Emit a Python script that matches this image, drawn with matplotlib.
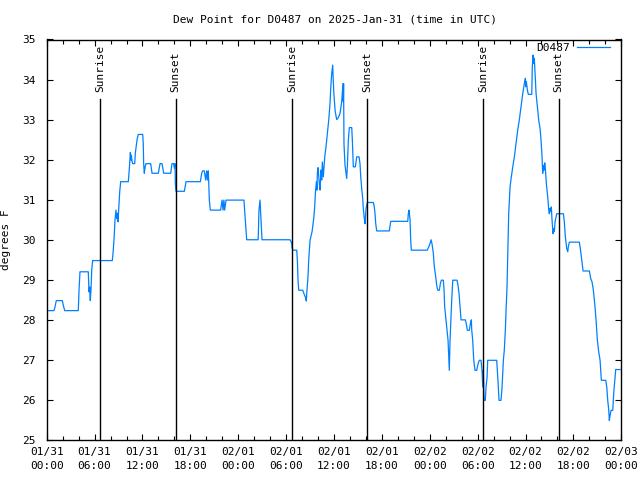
import pandas as pd
import matplotlib
matplotlib.use("Agg")
import matplotlib.pyplot as plt
import matplotlib.dates as mdates

plt.rcParams['font.family'] = ['DejaVu Sans Mono']

start = pd.Timestamp("2025-01-31 00:00")

# hours since 01/31 00:00 UTC, dew point in F
hours = [
    0.1, 0.91, 1.04, 1.2, 1.96, 2.08, 2.26, 3.96, 4.05, 4.17, 5.21, 5.3, 5.38, 5.46,
    5.55, 5.64, 5.76, 8.22, 8.31, 8.43, 8.56, 8.68, 8.77, 8.85, 8.93, 9.02, 9.15,
    9.27, 10.23, 10.31, 10.4, 10.48, 10.56, 10.61, 10.69, 10.78, 11.03, 11.1, 11.23,
    11.35, 11.48, 12.03,
    12.1, 12.15, 12.23, 12.33, 12.44, 13.03, 13.2, 13.99, 14.2, 14.45, 14.66, 15.54,
    15.7, 15.91, 16.0, 16.08, 16.12, 16.2, 17.25, 17.46, 19.25, 19.42, 19.55, 19.75,
    19.92, 20.05, 20.15, 20.25, 20.38, 20.5, 21.8, 21.97, 22.1, 22.2, 22.3, 22.47,
    24.72, 24.8, 25.06, 26.5, 26.6, 26.73, 26.98, 30.49, 30.7, 30.75, 30.86, 31.33,
    31.41, 31.49, 31.58, 32.08, 32.24, 32.41, 32.53, 32.58, 32.66, 32.74, 32.83,
    32.91, 33.0, 33.25, 33.33, 33.46, 33.58, 33.66, 33.79, 33.87, 33.91, 34.0, 34.16,
    34.25, 34.37, 34.46, 34.54, 34.66, 34.84, 35.0, 35.21, 35.34, 35.5, 35.59, 35.71,
    35.84, 35.9, 36.0, 36.15, 36.34, 36.54, 36.75, 36.97, 37.05, 37.12, 37.17, 37.2,
    37.25, 37.38, 37.59, 37.67, 37.8, 37.92, 38.22, 38.3, 38.42, 38.67, 38.85, 39.14,
    39.26, 39.35, 39.47, 39.6, 39.67, 39.8, 39.89, 40.01, 40.18, 40.93, 41.05, 41.14,
    41.23, 41.35, 42.93, 43.11, 45.24, 45.31, 45.4, 45.53, 45.61, 45.69, 47.69, 47.87,
    48.03,
    48.16, 48.28, 48.45, 48.57, 48.7, 48.87, 49.0, 49.2, 49.32, 49.45, 49.7, 49.79,
    49.87, 50.04, 50.16, 50.29, 50.38, 50.45, 50.54, 50.66, 50.75, 50.88, 51.42,
    51.54, 51.67, 51.79, 51.92, 52.46, 52.58, 52.71, 52.96, 53.08, 53.21, 53.26,
    53.38, 53.51, 53.67, 53.88, 54.05, 54.21, 54.42, 54.55, 54.64, 54.71, 54.8, 54.96,
    55.05, 55.18, 55.26, 56.39, 56.52, 56.68, 56.93, 57.06, 57.22, 57.34, 57.47,
    57.56, 57.68, 57.77, 57.89, 58.06, 58.22, 58.4, 58.6, 58.81, 59.02, 59.22, 59.44,
    59.65, 59.85, 59.98,
    60.02, 60.1, 60.23, 60.35, 60.78, 60.85, 60.94, 61.03, 61.1, 61.19, 61.32, 61.48,
    61.65, 61.82, 61.94, 62.07, 62.15, 62.23, 62.32, 62.41, 62.48, 62.61, 62.78,
    62.91, 62.98, 63.07, 63.16, 63.23, 63.32, 63.45, 63.53, 63.61, 63.7, 63.82, 63.91,
    64.74, 64.86, 64.99, 65.16, 65.29, 65.36, 65.49, 66.74, 66.87, 67.04, 67.21, 68.0,
    68.17, 68.33, 68.5, 68.67, 68.84, 69.0, 69.17, 69.34, 69.5, 70.05, 70.18, 70.3,
    70.43, 70.5, 70.59, 70.71, 70.93, 71.05, 71.18, 71.3, 71.84,
]
dewpt = [
    28.23, 28.23, 28.32, 28.48, 28.48, 28.36, 28.23, 28.23, 28.74, 29.2, 29.2, 28.7,
    28.82, 28.48, 28.75, 29.24, 29.48, 29.48, 29.66, 29.99, 30.49, 30.74, 30.53,
    30.66, 30.45, 30.74, 31.2, 31.45, 31.45, 31.65, 31.9, 32.18, 31.99, 32.11, 31.96,
    31.9, 31.9, 32.15, 32.36, 32.53, 32.63, 32.63,
    32.4, 31.9, 31.66, 31.82, 31.9, 31.9, 31.66, 31.66, 31.9, 31.9, 31.66, 31.66,
    31.9, 31.9, 31.78, 31.9, 31.4, 31.21, 31.21, 31.45, 31.45, 31.66, 31.72, 31.72,
    31.49, 31.72, 31.49, 31.72, 30.99, 30.74, 30.74, 30.99, 30.74, 30.99, 30.74, 30.99,
    30.99, 30.74, 30.0, 30.0, 30.74, 30.99, 30.0, 30.0, 29.92, 29.8, 29.74, 29.74,
    29.49, 29.0, 28.74, 28.74, 28.65, 28.57, 28.47, 28.65, 28.86, 29.07, 29.49,
    29.74, 29.99, 30.2, 30.32, 30.53, 30.82, 31.15, 31.45, 31.24, 31.65, 31.8, 31.4,
    31.24, 31.74, 31.49, 31.94, 31.57, 32.07, 32.32, 32.74, 32.99, 33.4, 33.78, 34.15,
    34.36, 34.0, 33.6, 33.2, 33.0, 33.05, 33.15, 33.45, 33.7, 33.9, 33.45, 33.9,
    32.4, 31.86, 31.53, 31.82, 32.49, 32.8, 32.8, 32.49, 31.82, 31.82, 32.07, 32.07,
    31.9, 31.57, 31.28, 31.03, 30.78, 30.53, 30.4, 30.78, 30.93, 30.93, 30.82, 30.65,
    30.4, 30.22, 30.22, 30.46, 30.46, 30.65, 30.74, 30.49, 29.99, 29.74, 29.74, 29.82,
    29.9,
    30.0, 29.9, 29.66, 29.32, 29.15, 28.86, 28.74, 28.74, 28.9, 28.99, 28.99, 28.74,
    28.32, 27.99, 27.74, 27.49, 27.07, 26.74, 27.49, 28.07, 28.49, 28.99, 28.99,
    28.86, 28.65, 28.32, 28.0, 28.0, 27.9, 27.74, 27.74, 27.9, 28.0, 27.74,
    27.49, 26.99, 26.74, 26.74, 26.9, 26.99, 26.99, 26.74, 26.32, 26.74, 25.99, 25.99,
    26.32, 26.57, 26.99, 26.99, 26.57, 25.99, 25.99, 26.32, 26.99, 27.24, 27.74,
    28.24, 28.82, 29.57, 30.65, 31.32, 31.57, 31.82, 32.07, 32.4, 32.74, 32.99, 33.32,
    33.65, 33.9, 34.03,
    33.82, 33.95, 33.74, 33.63, 33.63, 34.32, 34.61, 34.4, 34.53, 34.15, 33.65, 33.32,
    32.99, 32.78, 32.49, 32.07, 31.66, 31.86, 31.74, 31.92, 31.78, 31.4, 31.07,
    30.74, 30.65, 30.78, 30.7, 30.82, 30.49, 30.15, 30.28, 30.2, 30.45, 30.57, 30.65,
    30.65, 30.45, 30.07, 29.78, 29.7, 29.82, 29.94, 29.94, 29.78, 29.49, 29.22, 29.22,
    29.03, 28.95, 28.74, 28.4, 27.99, 27.49, 27.2, 26.99, 26.49, 26.49, 26.32, 25.99,
    25.74, 25.49, 25.61, 25.74, 25.74, 26.17, 26.49, 26.76, 26.76,
]

sunrise_hours = [6.73, 30.76, 54.7]
sunset_hours = [16.14, 40.13, 64.14]

times = start + pd.to_timedelta(hours, unit="h")

fig = plt.figure(figsize=(6.4, 4.8), dpi=100)
ax = fig.add_axes([46.7 / 640, 40 / 480, 574.6 / 640, 400.5 / 480])

ax.plot(times, dewpt, color="#0080ff", lw=0.9, label="D0487")

for h in sunrise_hours:
    t = start + pd.Timedelta(hours=h)
    ax.axvline(t, ymin=0, ymax=0.8525, color="black", lw=1.0)
    ax.text(t, 0.868, "Sunrise", transform=ax.get_xaxis_transform(), rotation=90,
            ha="center", va="bottom", fontsize=8)
for h in sunset_hours:
    t = start + pd.Timedelta(hours=h)
    ax.axvline(t, ymin=0, ymax=0.8525, color="black", lw=1.0)
    ax.text(t, 0.868, "Sunset", transform=ax.get_xaxis_transform(), rotation=90,
            ha="center", va="bottom", fontsize=8)

ax.set_xlim(start, start + pd.Timedelta(hours=72))
ax.set_ylim(25, 35)
ax.set_yticks(range(25, 36))
ax.xaxis.set_major_locator(mdates.HourLocator(byhour=[0, 6, 12, 18]))
ax.xaxis.set_minor_locator(mdates.HourLocator(interval=2))
ax.xaxis.set_major_formatter(mdates.DateFormatter("%m/%d\n%H:%M"))

ax.tick_params(which="both", direction="in", top=True, right=True, labelsize=8, width=0.8)
ax.tick_params(which="major", length=4.5, pad=5)
ax.tick_params(which="minor", length=3)
ax.tick_params(axis="y", pad=8)
for lbl in ax.get_xticklabels():
    lbl.set_linespacing(1.5)
for sp in ax.spines.values():
    sp.set_linewidth(1.0)

ax.set_ylabel("degrees F", fontsize=8)
ax.yaxis.set_label_coords(-0.062, 0.5)
fig.text(335 / 640, 1 - 20 / 480, "Dew Point for D0487 on 2025-Jan-31 (time in UTC)",
         ha="center", va="center", fontsize=8)

ax.legend(loc="upper right", bbox_to_anchor=(0.985, 0.996), markerfirst=False,
          frameon=False, fontsize=8, handlelength=3.0, borderaxespad=0.0,
          borderpad=0.2, handletextpad=0.6)

fig.savefig("out.png", dpi=100)
